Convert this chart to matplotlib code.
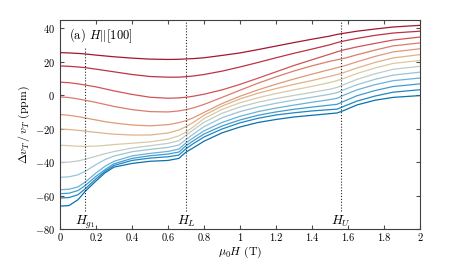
import numpy as np
import matplotlib
matplotlib.use("Agg")
from matplotlib import pyplot as plt
from matplotlib.colors import LinearSegmentedColormap
from matplotlib.ticker import FormatStrFormatter

plt.rcParams['font.family'] = 'cmr10'
plt.rcParams['mathtext.fontset'] = 'cm'
plt.rcParams['axes.unicode_minus'] = False
plt.rcParams['axes.formatter.use_mathtext'] = True

# field values (T) where curves were read
field = [0, 0.05, 0.1, 0.14, 0.2, 0.25, 0.3, 0.4, 0.5, 0.6, 0.66, 0.7, 0.74, 0.8, 0.9,
         1.0, 1.1, 1.2, 1.3, 1.4, 1.5, 1.54, 1.58, 1.65, 1.75, 1.85, 2.0]

# sound velocity change (ppm), top (red) to bottom (blue)
c1 = [25.5, 25.3, 25.0, 24.7, 24.0, 23.5, 23.0, 22.2, 21.6, 21.4, 21.5, 21.7, 21.9, 22.4, 23.8,
      25.3, 27.3, 29.4, 31.5, 33.5, 35.4, 36.4, 37.1, 38.3, 39.6, 40.8, 41.8]
c2 = [17.5, 17.3, 16.9, 16.5, 15.6, 14.8, 14.0, 12.4, 11.2, 10.8, 10.8, 11.1, 11.5, 12.4, 14.4,
      16.9, 19.6, 22.4, 25.1, 27.6, 30.2, 31.5, 32.5, 34.0, 35.8, 37.2, 38.3]
c3 = [7.8, 7.5, 6.8, 6.1, 5.0, 3.8, 2.6, 0.5, -1.2, -1.8, -1.6, -1.2, -0.6, 0.6, 3.2,
      6.5, 10.2, 14.0, 17.8, 21.2, 24.6, 26.0, 27.2, 28.9, 31.0, 33.0, 34.8]
c4 = [-1.0, -1.4, -2.2, -3.0, -4.3, -5.5, -6.7, -8.6, -9.8, -10.0, -9.4, -8.6, -7.6, -5.5, -1.3,
      3.0, 7.2, 11.0, 14.5, 17.6, 20.3, 21.2, 22.1, 24.2, 27.0, 29.5, 31.3]
c5 = [-11.5, -12.0, -12.8, -13.6, -14.8, -15.8, -16.6, -17.8, -18.3, -17.6, -16.4, -15.2, -13.5, -10.3, -5.0,
      -0.6, 3.2, 6.6, 9.7, 12.6, 15.4, 16.5, 17.6, 20.0, 23.2, 25.9, 27.8]
c6 = [-20.2, -20.5, -21.0, -21.5, -22.2, -22.8, -23.3, -23.8, -23.8, -22.6, -20.8, -18.8, -16.3, -12.0, -6.5,
      -2.2, 1.2, 4.0, 6.5, 8.8, 11.3, 12.4, 13.7, 16.3, 19.6, 22.3, 24.3]
c7 = [-29.9, -30.2, -30.5, -30.6, -30.4, -30.0, -29.5, -28.7, -27.9, -26.3, -24.3, -22.0, -19.0, -14.0, -8.5,
      -4.5, -1.5, 1.0, 3.2, 5.3, 7.6, 8.8, 10.2, 13.0, 16.3, 19.0, 20.8]
c8 = [-40.2, -40.0, -39.3, -38.3, -36.5, -35.0, -33.7, -31.6, -30.2, -28.8, -27.2, -24.0, -20.8, -16.2, -10.8,
      -7.0, -4.2, -2.0, -0.1, 1.7, 3.6, 4.7, 6.5, 9.5, 12.8, 15.5, 17.3]
c9 = [-49.1, -48.8, -47.6, -45.5, -41.5, -38.5, -36.4, -33.8, -32.4, -31.2, -29.8, -26.5, -23.3, -18.8, -13.5,
      -9.8, -7.0, -4.8, -2.9, -1.2, 0.6, 1.6, 3.4, 6.3, 9.5, 12.0, 13.8]
c10 = [-56.5, -56.2, -54.8, -52.0, -46.5, -42.5, -39.5, -36.3, -34.8, -33.6, -32.2, -28.5, -25.5, -21.3, -16.3,
       -12.6, -9.8, -7.7, -5.9, -4.2, -2.6, -1.8, 0.2, 3.2, 6.3, 8.7, 10.3]
c11 = [-58.9, -58.6, -57.0, -54.0, -48.5, -44.5, -41.0, -37.8, -36.2, -35.2, -34.0, -30.2, -27.3, -23.2, -18.4,
       -14.8, -12.0, -10.0, -8.4, -7.1, -5.9, -5.4, -3.5, -0.3, 2.8, 5.2, 6.8]
c12 = [-61.5, -61.2, -59.5, -56.0, -50.0, -45.5, -42.0, -39.0, -37.6, -36.8, -35.8, -32.0, -29.0, -25.0, -20.2,
       -16.5, -13.8, -11.8, -10.5, -9.4, -8.6, -8.3, -6.5, -3.5, -0.5, 1.8, 3.3]
c13 = [-66.3, -66.0, -62.5, -57.5, -51.3, -46.4, -43.0, -40.8, -39.5, -39.0, -37.8, -34.0, -31.5, -27.5, -22.5,
       -19.0, -16.3, -14.5, -13.0, -12.0, -11.0, -10.6, -9.0, -5.8, -3.0, -1.3, -0.2]
curves = [c1, c2, c3, c4, c5, c6, c7, c8, c9, c10, c11, c12, c13]

# transition fields
fieldLines = [0.14, 0.7, 1.56]
fieldNames = [r'$H_{g_1}$', r'$H_L$', r'$H_U$']
lineTops = [28, 45, 45]

cmap = LinearSegmentedColormap.from_list('rb', ['#a3172f', '#c9424e', '#dc7c6c', '#e2a67e',
                                                '#d9cba2', '#b3ccd7', '#6db2d8', '#2d92cb', '#0a72b0'])

fig = plt.figure(figsize=(4.64, 2.62), dpi=100)
ax = fig.add_axes([0.1293, 0.126, 0.7759, 0.7977])

for i, c in enumerate(curves):
    ax.plot(field, c, color=cmap(i/(len(curves)-1)), lw=0.9)

for xl, name, top in zip(fieldLines, fieldNames, lineTops):
    ax.plot([xl, xl], [-69.5, top], ls=(0, (1, 1.6)), color='0.15', lw=0.8)
    ax.text(xl, -77.3, name, ha='center', va='baseline', fontsize=9.5)

ax.text(0.05, 35.8, r'(a) $H||[100]$', fontsize=9, va='center')

ax.set_xlim(0, 2)
ax.set_ylim(-80, 45)
ax.set_xticks(np.arange(0, 2.01, 0.2))
ax.set_yticks(np.arange(-80, 41, 20))
ax.xaxis.set_major_formatter(FormatStrFormatter('%g'))
ax.tick_params(direction='in', top=True, right=True, labelsize=7.5, length=3, color='0.3')
for s in ax.spines.values():
    s.set_color('0.25')
    s.set_linewidth(0.8)
ax.set_xlabel(r'$\mu_0 H$ (T)', fontsize=8.5, labelpad=1)
ax.set_ylabel(r'$\Delta v_T\,/\,v_T$ (ppm)', fontsize=8.5, labelpad=2)

fig.savefig('out.png', dpi=100)
